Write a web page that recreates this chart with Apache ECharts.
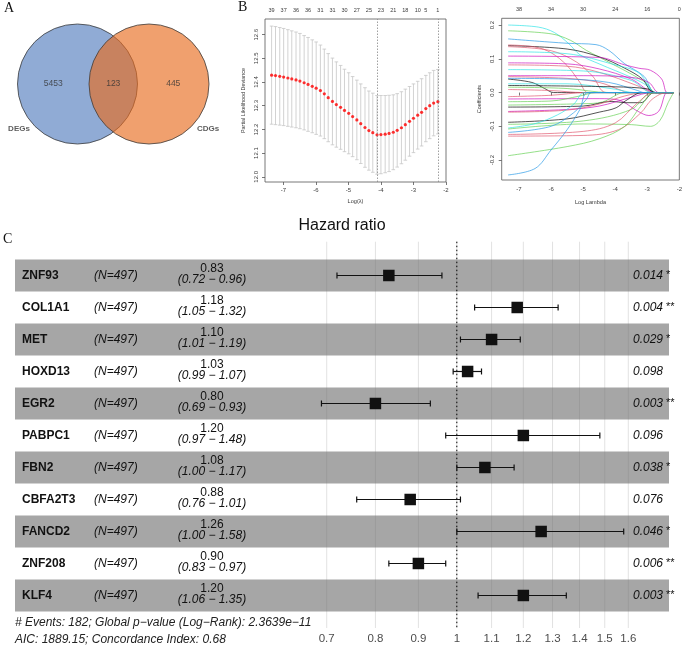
<!DOCTYPE html>
<html><head><meta charset="utf-8">
<script src="https://cdn.jsdelivr.net/npm/echarts@6/dist/echarts.min.js"></script>
<style>html,body{margin:0;padding:0;background:#fff}#c{width:685px;height:646px}</style>
</head><body><div id="c"></div>
<script>
// ---------------- Panel A : Venn ----------------
const vennSets = ['DEGs', 'CDGs'];
const vennOnly = [5453, 445];
const vennBoth = 123;

// ---------------- Panel B (left): CV curve ----------------
const cvLogLambda = [-7.36,-7.24,-7.11,-6.99,-6.86,-6.74,-6.61,-6.49,-6.36,-6.24,-6.11,-5.99,-5.86,-5.74,-5.62,-5.49,-5.37,-5.24,-5.12,-4.99,-4.87,-4.74,-4.62,-4.49,-4.37,-4.25,-4.12,-4.00,-3.87,-3.75,-3.62,-3.50,-3.37,-3.25,-3.12,-3.00,-2.87,-2.75,-2.62,-2.50,-2.38,-2.25];
const cvMean = [12.429,12.427,12.424,12.421,12.417,12.413,12.409,12.404,12.397,12.390,12.382,12.374,12.364,12.350,12.334,12.318,12.305,12.293,12.280,12.268,12.254,12.240,12.224,12.208,12.195,12.186,12.177,12.178,12.180,12.183,12.188,12.196,12.207,12.220,12.234,12.247,12.260,12.272,12.288,12.300,12.311,12.317];
const cvSD = [0.207,0.207,0.206,0.205,0.204,0.203,0.202,0.201,0.199,0.198,0.196,0.195,0.192,0.189,0.186,0.183,0.180,0.177,0.174,0.171,0.169,0.168,0.168,0.168,0.167,0.167,0.166,0.165,0.163,0.161,0.158,0.155,0.152,0.150,0.147,0.145,0.143,0.142,0.140,0.139,0.138,0.136];
const cvTopX = [-7.36,-6.99,-6.61,-6.24,-5.86,-5.49,-5.12,-4.74,-4.37,-4.00,-3.62,-3.25,-2.87,-2.62,-2.25];
const cvTopNz = ['39','37','36','36','31','31','30','27','25','23','21','18','10','5','1'];
const cvLambdaMin = -4.12;
const cvLambda1se = -2.23;
const cvXTicks = [-7,-6,-5,-4,-3,-2];
const cvYTicks = [12.0,12.1,12.2,12.3,12.4,12.5,12.6];

// ---------------- Panel B (right): coefficient paths ----------------
const coefPaths = [
 [[-7.34,0.200],[-6.4,0.194],[-5.9,0.178],[-5.45,0.145],[-5.1,0.112],[-4.5,0.085],[-3.5,0.045],[-3.0,0.02],[-2.80,0]],
 [[-7.34,0.183],[-6.0,0.174],[-5.4,0.155],[-4.9,0.125],[-4.5,0.105],[-3.05,0.03],[-2.74,0]],
 [[-7.34,0.159],[-5.5,0.146],[-4.6,0.142],[-4.2,0.125],[-3.7,0.085],[-3.1,0.048],[-2.76,0]],
 [[-7.34,0.139],[-5.5,0.129],[-4.5,0.106],[-3.7,0.072],[-3.15,0.04],[-2.80,0]],
 [[-7.34,0.141],[-6.5,0.135],[-6.0,0.118],[-5.5,0.08],[-5.1,0.03],[-4.85,0]],
 [[-7.34,0.136],[-6.0,0.124],[-5.2,0.09],[-4.7,0.048],[-4.28,0]],
 [[-7.34,0.121],[-5.5,0.115],[-4.0,0.082],[-3.26,0.058],[-2.74,0]],
 [[-7.34,0.108],[-4.5,0.104],[-3.7,0.082],[-3.26,0.072],[-2.9,0.066],[-2.55,0.04],[-2.38,0]],
 [[-7.34,0.088],[-5.5,0.085],[-4.5,0.07],[-3.5,0.04],[-2.74,0]],
 [[-7.34,0.082],[-5.5,0.078],[-4.5,0.06],[-3.3,0.02],[-2.79,0]],
 [[-7.34,0.068],[-5.0,0.064],[-3.5,0.036],[-2.85,0]],
 [[-7.34,0.050],[-5.0,0.050],[-3.5,0.045],[-2.95,0.03],[-2.64,0]],
 [[-7.34,0.047],[-5.5,0.042],[-4.5,0.03],[-3.8,0.006],[-3.6,0]],
 [[-7.34,0.040],[-6.6,0.030],[-6.2,0.012],[-5.92,0]],
 [[-7.34,0.042],[-5.5,0.04],[-4.2,0.03],[-3.3,0.006],[-3.1,0]],
 [[-7.34,0.026],[-5.5,0.026],[-4.0,0.01],[-3.4,0]],
 [[-7.34,0.021],[-4.0,0.017],[-3.0,0.011],[-2.74,0]],
 [[-7.34,0.016],[-5.5,0.012],[-4.18,0]],
 [[-7.34,0.009],[-6.0,0.006],[-5.0,0]],
 [[-7.34,-0.012],[-6.0,-0.008],[-4.9,0]],
 [[-7.34,-0.019],[-4.5,-0.018],[-3.9,-0.022],[-3.3,-0.055],[-2.95,-0.068],[-2.64,-0.055],[-2.38,0]],
 [[-7.34,-0.027],[-6.0,-0.025],[-5.1,-0.01],[-4.6,0]],
 [[-7.34,-0.037],[-5.0,-0.033],[-4.4,-0.028],[-3.7,0]],
 [[-7.34,-0.043],[-5.0,-0.04],[-4.1,-0.026],[-3.7,-0.03],[-3.2,-0.03],[-2.79,0]],
 [[-7.34,-0.056],[-5.5,-0.05],[-4.5,-0.04],[-3.5,-0.014],[-2.85,0]],
 [[-7.34,-0.058],[-5.5,-0.052],[-4.5,-0.034],[-3.7,-0.01],[-3.05,0]],
 [[-7.34,-0.088],[-5.5,-0.078],[-4.5,-0.058],[-3.97,-0.045],[-3.67,-0.024],[-3.15,0]],
 [[-7.34,-0.094],[-5.0,-0.084],[-3.5,-0.05],[-2.85,0]],
 [[-7.34,-0.105],[-6.5,-0.092],[-5.8,-0.066],[-5.3,-0.035],[-4.95,0]],
 [[-7.34,-0.108],[-5.0,-0.093],[-3.5,-0.095],[-2.9,-0.10],[-2.6,-0.082],[-2.35,-0.03],[-2.18,0]],
 [[-7.34,-0.118],[-6.0,-0.10],[-5.3,-0.06],[-4.9,-0.02],[-4.74,0]],
 [[-7.34,-0.124],[-5.0,-0.115],[-4.0,-0.09],[-3.3,-0.03],[-2.79,0]],
 [[-7.34,-0.129],[-5.0,-0.127],[-3.9,-0.11],[-3.2,-0.06],[-2.85,-0.02],[-2.38,0]],
 [[-7.34,-0.187],[-5.5,-0.16],[-4.5,-0.137],[-3.7,-0.10],[-3.2,-0.04],[-2.79,0]],
 [[-7.34,-0.244],[-6.5,-0.225],[-6.0,-0.17],[-5.5,-0.11],[-5.1,-0.05],[-4.85,0]]
];
const coefColors = ['cyan','green','blue','black','red','red','cyan','magenta','magenta','red','cyan','magenta','red','black','blue','cyan','black','green','red','red','magenta','green','green','black','magenta','red','black','green','cyan','green','blue','red','red','green','blue'];
const coefLambdaMax = -2.18;
const coefXTicks = [-7,-6,-5,-4,-3,-2];
const coefTopDf = ['38','34','30','24','16','0'];
const coefYTicks = [-0.2,-0.1,0.0,0.1,0.2];

// ---------------- Panel C : forest plot ----------------
const genes = ['ZNF93','COL1A1','MET','HOXD13','EGR2','PABPC1','FBN2','CBFA2T3','FANCD2','ZNF208','KLF4'];
const nObs = [497,497,497,497,497,497,497,497,497,497,497];
const hr = [0.83,1.18,1.10,1.03,0.80,1.20,1.08,0.88,1.26,0.90,1.20];
const hrLow = [0.72,1.05,1.01,0.99,0.69,0.97,1.00,0.76,1.00,0.83,1.06];
const hrHigh = [0.96,1.32,1.19,1.07,0.93,1.48,1.17,1.01,1.58,0.97,1.35];
const pValues = ['0.014','0.004','0.029','0.098','0.003','0.096','0.038','0.076','0.046','0.006','0.003'];
const pStars = ['*','**','*','','**','','*','','*','**','**'];
const hrTicks = [0.7,0.8,0.9,1,1.1,1.2,1.3,1.4,1.5,1.6];
const hrTickLabels = ['0.7','0.8','0.9','1','1.1','1.2','1.3','1.4','1.5','1.6'];
const forestTitle = 'Hazard ratio';
const footerLines = ['# Events: 182; Global p\u2212value (Log\u2212Rank): 2.3639e\u221211', 'AIC: 1889.15; Concordance Index: 0.68'];

// ---------------- rendering ----------------
const FONT = '"Liberation Sans", Arial, Helvetica, sans-serif';
const SERIF = '"Liberation Serif", "Times New Roman", serif';
const palette = {black:'#000000', red:'#DF536B', green:'#61D04F', blue:'#2297E6', cyan:'#28E2E5', magenta:'#CD0BBC'};
const lookup = (xs, labs, v) => { const i = xs.findIndex(x => Math.abs(x - v) < 1e-6); return i < 0 ? '' : labs[i]; };

const chart = echarts.init(document.getElementById('c'), null, {renderer: 'canvas'});

// Venn layout
const vR = 60, vCy = 84, vBlueX = 77.5, vOrangeX = 149;
const vennTextData = [
  {value: [(vBlueX - vR + vOrangeX - vR) / 2, vCy], name: String(vennOnly[0])},
  {value: [(vOrangeX - vR + vBlueX + vR) / 2, vCy], name: String(vennBoth)},
  {value: [(vBlueX + vR + vOrangeX + vR) / 2, vCy], name: String(vennOnly[1])}
];
const vennSetLabels = [
  {value: [vBlueX - vR + 1.5, vCy + 45], name: vennSets[0]},
  {value: [vOrangeX + vR - 1, vCy + 45], name: vennSets[1]}
];

const axGray = '#555';
const txGray = '#3a3a3a';

function cvAxisBase(extra) {
  return Object.assign({type: 'value', axisLine: {show: false}, splitLine: {show: false}}, extra);
}

const series = [];

// Venn
series.push({type: 'scatter', xAxisIndex: 0, yAxisIndex: 0, symbol: 'circle', symbolSize: 2 * vR, silent: true,
  itemStyle: {borderColor: '#3c3c3c', borderWidth: 0.8, opacity: 1},
  data: [
    {value: [vBlueX, vCy], itemStyle: {color: 'rgba(70,115,185,0.6)'}},
    {value: [vOrangeX, vCy], itemStyle: {color: 'rgba(232,107,28,0.64)'}}
  ]});
series.push({type: 'scatter', xAxisIndex: 0, yAxisIndex: 0, symbolSize: 0, silent: true,
  label: {show: true, position: 'inside', formatter: p => p.name, fontSize: 8.5, fontFamily: FONT, color: '#333'},
  data: vennTextData});
series.push({type: 'scatter', xAxisIndex: 0, yAxisIndex: 0, symbolSize: 0, silent: true,
  label: {show: true, position: 'inside', formatter: p => p.name, fontSize: 8, fontWeight: 'bold', fontFamily: FONT, color: '#333'},
  data: vennSetLabels});

// CV error bars
series.push({type: 'custom', xAxisIndex: 1, yAxisIndex: 1, silent: true,
  data: cvLogLambda.map((x, i) => [x, cvMean[i] - cvSD[i], cvMean[i] + cvSD[i]]),
  encode: {x: 0, y: [1, 2]},
  renderItem: (params, api) => {
    const x = api.value(0);
    const lo = api.coord([x, api.value(1)]);
    const hi = api.coord([x, api.value(2)]);
    const st = {stroke: '#c6c6c6', lineWidth: 0.8};
    return {type: 'group', children: [
      {type: 'line', shape: {x1: lo[0], y1: lo[1], x2: hi[0], y2: hi[1]}, style: st},
      {type: 'line', shape: {x1: lo[0] - 1.8, y1: lo[1], x2: lo[0] + 1.8, y2: lo[1]}, style: st},
      {type: 'line', shape: {x1: hi[0] - 1.8, y1: hi[1], x2: hi[0] + 1.8, y2: hi[1]}, style: st}
    ]};
  }});
series.push({type: 'scatter', xAxisIndex: 1, yAxisIndex: 1, silent: true, symbolSize: 3.2,
  itemStyle: {color: '#ff0000'}, z: 3,
  data: cvLogLambda.map((x, i) => [x, cvMean[i]]),
  markLine: {silent: true, symbol: 'none', label: {show: false},
    lineStyle: {type: [1.5, 1.5], color: '#888', width: 0.8},
    data: [{xAxis: cvLambdaMin}, {xAxis: cvLambda1se}]}});

// coefficient paths
coefPaths.forEach((path, i) => {
  series.push({type: 'line', xAxisIndex: 3, yAxisIndex: 2, silent: true, showSymbol: false, smooth: 0.35,
    data: path.concat([[coefLambdaMax, 0]]),
    lineStyle: {color: palette[coefColors[i]], width: 0.9, opacity: 0.75}});
});

// forest: gridlines
series.push({type: 'custom', xAxisIndex: 5, yAxisIndex: 3, silent: true, z: 1,
  data: hrTicks.map(t => [Math.log(t), 0]),
  renderItem: (params, api) => {
    const cs = params.coordSys;
    const x = api.coord([api.value(0), 0])[0];
    return {type: 'line', shape: {x1: x, y1: cs.y, x2: x, y2: cs.y + cs.height}, style: {stroke: '#e2e2e2', lineWidth: 1}};
  }});
// forest: bands
series.push({type: 'custom', xAxisIndex: 5, yAxisIndex: 3, silent: true, z: 2,
  data: genes.map((g, i) => [0, i]),
  renderItem: (params, api) => {
    const i = params.dataIndex;
    if (i % 2 !== 0) return null;
    const cs = params.coordSys;
    const yc = api.coord([0, i])[1];
    const h = api.size([0, 1])[1];
    return {type: 'rect', shape: {x: cs.x, y: yc - h / 2, width: cs.width, height: h}, style: {fill: 'rgba(112,112,112,0.62)'}};
  }});
// forest: reference line at HR = 1
series.push({type: 'custom', xAxisIndex: 5, yAxisIndex: 3, silent: true, z: 3,
  data: [[Math.log(1), 0]],
  renderItem: (params, api) => {
    const cs = params.coordSys;
    const x = api.coord([api.value(0), 0])[0];
    return {type: 'line', shape: {x1: x, y1: cs.y, x2: x, y2: cs.y + cs.height}, style: {stroke: '#000', lineWidth: 1, lineDash: [1.5, 2.5]}};
  }});
// forest: rows
series.push({type: 'custom', xAxisIndex: 5, yAxisIndex: 3, silent: true, z: 4,
  data: genes.map((g, i) => [Math.log(hr[i]), i]),
  encode: {x: 0, y: 1},
  renderItem: (params, api) => {
    const i = params.dataIndex;
    const cs = params.coordSys;
    const c = api.coord([Math.log(hr[i]), i]);
    const yc = c[1];
    const xl = api.coord([Math.log(hrLow[i]), i])[0];
    const xh = api.coord([Math.log(hrHigh[i]), i])[0];
    const col = '#111';
    const bs = 11.5;
    const t = (txt, x, y, o) => ({type: 'text', x: x, y: y, style: Object.assign({text: txt, fontSize: 12, fontFamily: FONT, fill: col, align: 'left', verticalAlign: 'middle'}, o || {})});
    return {type: 'group', children: [
      {type: 'line', shape: {x1: xl, y1: yc, x2: xh, y2: yc}, style: {stroke: col, lineWidth: 1.2}},
      {type: 'line', shape: {x1: xl, y1: yc - 3, x2: xl, y2: yc + 3}, style: {stroke: col, lineWidth: 1.2}},
      {type: 'line', shape: {x1: xh, y1: yc - 3, x2: xh, y2: yc + 3}, style: {stroke: col, lineWidth: 1.2}},
      {type: 'rect', shape: {x: c[0] - bs / 2, y: yc - bs / 2, width: bs, height: bs}, style: {fill: col}},
      t(genes[i], cs.x + 7, yc + 0.5, {fontWeight: 'bold'}),
      t('(N=' + nObs[i] + ')', 94, yc + 0.5, {fontStyle: 'italic'}),
      t(hr[i].toFixed(2), 212, yc - 7, {align: 'center'}),
      t('(' + hrLow[i].toFixed(2) + ' \u2212 ' + hrHigh[i].toFixed(2) + ')', 212, yc + 4.5, {align: 'center', fontStyle: 'italic'}),
      t(pValues[i], 663, yc + 0.5, {align: 'right', fontStyle: 'italic'}),
      t(pStars[i], 666, yc - 0.5, {fontSize: 11})
    ]};
  }});

const option = {
  animation: false,
  backgroundColor: '#ffffff',
  grid: [
    {left: 0, top: 0, width: 230, height: 200, show: false},
    {left: 265, top: 19, width: 181, height: 163, show: true, borderColor: axGray, borderWidth: 0.8, backgroundColor: 'transparent'},
    {left: 501.7, top: 18.3, width: 180, height: 161.7, show: true, borderColor: axGray, borderWidth: 0.8, backgroundColor: 'transparent'},
    {left: 15, top: 241.7, width: 654, height: 386.3, show: false}
  ],
  xAxis: [
    {gridIndex: 0, type: 'value', min: 0, max: 230, show: false},
    cvAxisBase({gridIndex: 1, min: -7.563, max: -2.0,
      axisTick: {show: true, length: 3, customValues: cvXTicks, lineStyle: {color: axGray, width: 0.8}},
      axisLabel: {customValues: cvXTicks, formatter: v => String(Math.round(v)), fontSize: 6, margin: 5, color: txGray, fontFamily: FONT},
      name: 'Log(\u03bb)', nameLocation: 'middle', nameGap: 16, nameTextStyle: {fontSize: 5.6, color: txGray, fontFamily: FONT}}),
    cvAxisBase({gridIndex: 1, position: 'top', min: -7.563, max: -2.0, axisTick: {show: false},
      axisLabel: {customValues: cvTopX, formatter: v => lookup(cvTopX, cvTopNz, v), fontSize: 5.5, margin: 6, color: txGray, fontFamily: FONT}}),
    cvAxisBase({gridIndex: 2, min: -7.54, max: -2.0,
      axisTick: {show: true, length: 3, customValues: coefXTicks, lineStyle: {color: axGray, width: 0.8}},
      axisLabel: {customValues: coefXTicks, formatter: v => String(Math.round(v)), fontSize: 6, margin: 6.5, color: txGray, fontFamily: FONT},
      name: 'Log Lambda', nameLocation: 'middle', nameGap: 19, nameTextStyle: {fontSize: 5.6, color: txGray, fontFamily: FONT}}),
    cvAxisBase({gridIndex: 2, position: 'top', min: -7.54, max: -2.0, axisTick: {show: false},
      axisLabel: {customValues: coefXTicks, formatter: v => lookup(coefXTicks, coefTopDf, v), fontSize: 5.5, margin: 6, color: txGray, fontFamily: FONT}}),
    {gridIndex: 3, type: 'value', min: -1.2111, max: 0.5816, axisLine: {show: false}, axisTick: {show: false}, splitLine: {show: false},
      axisLabel: {customValues: hrTicks.map(t => Math.log(t)), formatter: v => lookup(hrTicks.map(t => Math.log(t)), hrTickLabels, v),
        fontSize: 11.5, margin: 5, color: '#4d4d4d', fontFamily: FONT}}
  ],
  yAxis: [
    {gridIndex: 0, type: 'value', min: 0, max: 200, inverse: true, show: false},
    cvAxisBase({gridIndex: 1, min: 11.978, max: 12.666,
      axisTick: {show: true, length: 3, customValues: cvYTicks, lineStyle: {color: axGray, width: 0.8}},
      axisLabel: {customValues: cvYTicks, formatter: v => v.toFixed(1), rotate: 90, fontSize: 6, margin: 6, color: txGray, fontFamily: FONT},
      name: 'Partial Likelihood Deviance', nameLocation: 'middle', nameGap: 19, nameTextStyle: {fontSize: 5.4, color: txGray, fontFamily: FONT}}),
    cvAxisBase({gridIndex: 2, min: -0.259, max: 0.220,
      axisTick: {show: true, length: 3, customValues: coefYTicks, lineStyle: {color: axGray, width: 0.8}},
      axisLabel: {customValues: coefYTicks, formatter: v => v.toFixed(1), rotate: 90, fontSize: 6, margin: 6, color: txGray, fontFamily: FONT},
      name: 'Coefficients', nameLocation: 'middle', nameGap: 20, nameTextStyle: {fontSize: 5.4, color: txGray, fontFamily: FONT}}),
    {gridIndex: 3, type: 'value', min: -1.056, max: 11.016, inverse: true, show: false}
  ],
  graphic: [
    {type: 'text', x: 4, y: 1, style: {text: 'A', font: '14px ' + SERIF, fill: '#111'}},
    {type: 'text', x: 238, y: 0, style: {text: 'B', font: '14px ' + SERIF, fill: '#111'}},
    {type: 'text', x: 3, y: 232, style: {text: 'C', font: '14px ' + SERIF, fill: '#111'}},
    {type: 'text', x: 342, y: 226, style: {text: forestTitle, font: '16px ' + FONT, fill: '#111', align: 'center', verticalAlign: 'middle'}},
    {type: 'text', x: 15, y: 622.7, style: {text: footerLines[0], font: 'italic 12px ' + FONT, fill: '#222', verticalAlign: 'middle'}},
    {type: 'text', x: 15, y: 639.3, style: {text: footerLines[1], font: 'italic 12px ' + FONT, fill: '#222', verticalAlign: 'middle'}}
  ],
  series: series
};
chart.setOption(option);
</script>
</body></html>
